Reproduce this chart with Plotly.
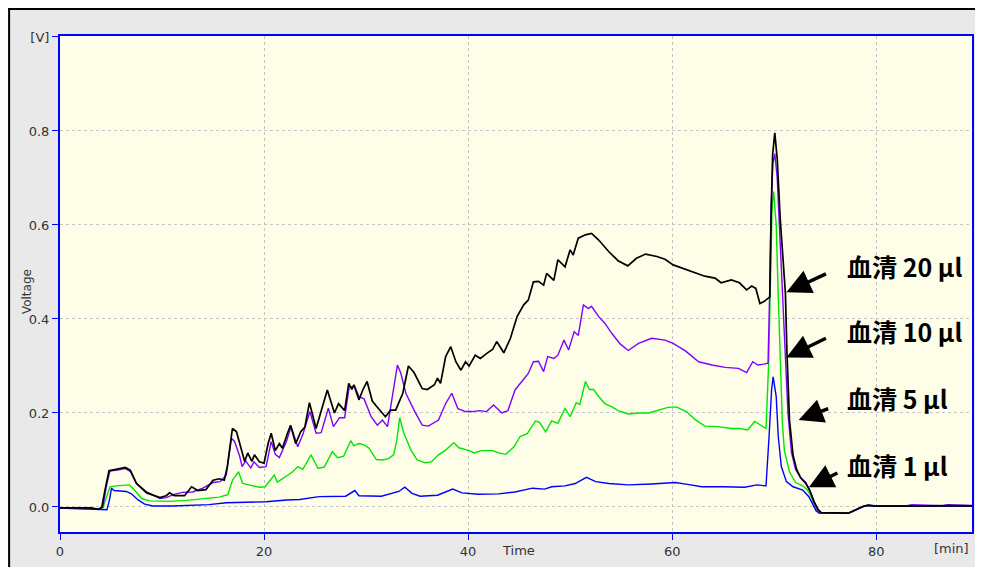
import plotly.graph_objects as go

# ---------------- data (time in min, voltage in V) ----------------
t_black = [0, 3.0, 3.8, 4.1, 4.4, 4.8, 5.5, 6.0, 6.4, 6.9, 7.5, 8.5, 9.8, 10.4, 10.75, 11.2, 12.2, 12.9, 13.5,
           14.3, 15.0, 15.6, 16.1, 16.4, 16.9, 17.3, 17.8, 18.1, 18.4, 18.8, 19.06, 19.55, 20.0, 20.4, 20.7, 21.1,
           21.5, 21.8, 22.3, 22.6, 23.1, 23.6, 24.0, 24.45, 25.1, 25.7, 26.2, 26.9, 27.3, 27.9, 28.3, 28.6, 28.8,
           29.3, 29.7, 30.1, 30.6, 31.0, 31.4, 31.9, 32.4, 32.9, 33.6, 34.15, 34.7, 35.1, 35.5, 36.0, 36.4, 36.7,
           37.0, 37.3, 37.8, 38.3, 38.8, 39.3, 39.75, 40.1, 40.7, 41.2, 41.9, 42.4, 42.8, 43.5, 44.15, 44.8, 45.45,
           45.9, 46.4, 46.9, 47.4, 47.7, 48.4, 48.8, 49.5, 50.0, 50.3, 50.8, 51.5, 52.1, 52.8, 53.8, 54.7, 55.65,
           56.5, 57.4, 58.5, 59.3, 60.1, 61.9, 63.2, 64.2, 64.8, 65.8, 66.6, 67.3, 67.8, 68.2, 68.6, 69.0, 69.4,
           69.57, 69.7, 69.85, 70.06, 70.3, 70.6, 70.9, 71.1, 71.25, 71.5, 71.85, 72.2, 72.6, 73.1, 73.5, 73.9,
           74.3, 74.6, 77.3, 78.0, 78.7, 79.2, 80.0, 84.0, 87.0, 90.2]
v_black = [-0.002, -0.002, -0.005, 0.0, 0.035, 0.077, 0.08, 0.082, 0.084, 0.078, 0.05, 0.03, 0.02, 0.024, 0.03,
           0.024, 0.024, 0.043, 0.035, 0.037, 0.057, 0.06, 0.057, 0.086, 0.167, 0.16, 0.118, 0.097, 0.115, 0.097,
           0.111, 0.096, 0.093, 0.135, 0.157, 0.12, 0.135, 0.125, 0.157, 0.174, 0.135, 0.16, 0.17, 0.222, 0.167,
           0.21, 0.249, 0.2, 0.22, 0.205, 0.263, 0.25, 0.26, 0.228, 0.25, 0.267, 0.226, 0.215, 0.205, 0.192, 0.206,
           0.206, 0.242, 0.3, 0.286, 0.27, 0.252, 0.25, 0.255, 0.26, 0.274, 0.263, 0.32, 0.341, 0.309, 0.291, 0.309,
           0.3, 0.323, 0.316, 0.328, 0.335, 0.352, 0.328, 0.359, 0.405, 0.43, 0.44, 0.479, 0.48, 0.472, 0.497,
           0.482, 0.526, 0.511, 0.547, 0.536, 0.572, 0.579, 0.582, 0.568, 0.543, 0.524, 0.513, 0.529, 0.538,
           0.533, 0.527, 0.515, 0.501, 0.491, 0.487, 0.477, 0.483, 0.477, 0.462, 0.47, 0.465, 0.433, 0.437, 0.444,
           0.447, 0.62, 0.75, 0.796, 0.74, 0.61, 0.52, 0.455, 0.33, 0.185, 0.11, 0.08, 0.062, 0.05, 0.035, 0.012,
           -0.005, -0.012, -0.013, -0.006, 0.001, 0.004, 0.002, 0.002, 0.003, 0.002]

t_purple = [0, 3.0, 3.8, 4.2, 4.6, 4.9, 5.5, 6.0, 6.4, 6.9, 7.5, 8.5, 9.8, 10.4, 11.2, 12.0, 13.0, 14.0, 15.0,
            15.7, 16.3, 16.8, 17.1, 17.6, 17.85, 18.2, 18.7, 19.0, 19.55, 20.2, 20.7, 21.1, 21.5, 22.2, 22.65,
            23.3, 23.8, 24.5, 25.1, 25.6, 26.3, 26.8, 27.4, 27.9, 28.35, 28.9, 29.3, 29.8, 30.5, 31.1, 31.6, 32.1,
            32.6, 33.07, 33.4, 33.9, 34.7, 35.5, 36.1, 36.6, 37.1, 37.8, 38.4, 39.0, 39.75, 40.4, 41.1, 41.8,
            42.5, 43.3, 43.9, 44.6, 45.3, 45.9, 46.4, 46.9, 47.4, 47.8, 48.4, 48.8, 49.4, 49.85, 50.4, 50.8, 51.3,
            51.8, 52.1, 52.8, 53.4, 54.1, 54.9, 55.7, 56.7, 58.0, 59.3, 60.1, 61.3, 62.6, 63.9, 65.2, 66.5, 67.3,
            67.9, 68.4, 69.0, 69.4, 69.57, 69.7, 69.87, 70.06, 70.3, 70.6, 70.9, 71.1, 71.35, 71.7, 72.1, 72.6,
            73.1, 73.5, 73.9, 74.3, 74.6, 77.3, 78.0, 78.7, 79.2, 80.0, 83.0, 83.5, 86.5, 87.0, 90.2]
v_purple = [-0.002, -0.002, -0.005, 0.0, 0.05, 0.077, 0.078, 0.08, 0.082, 0.075, 0.05, 0.032, 0.018, 0.02, 0.027,
            0.031, 0.032, 0.04, 0.052, 0.054, 0.068, 0.146, 0.14, 0.109, 0.086, 0.098, 0.083, 0.096, 0.084, 0.086,
            0.139, 0.112, 0.105, 0.14, 0.171, 0.128, 0.154, 0.203, 0.157, 0.158, 0.21, 0.171, 0.19, 0.19, 0.256,
            0.256, 0.235, 0.23, 0.192, 0.174, 0.185, 0.171, 0.24, 0.302, 0.285, 0.242, 0.206, 0.174, 0.172, 0.178,
            0.185, 0.22, 0.242, 0.209, 0.203, 0.203, 0.205, 0.203, 0.217, 0.2, 0.205, 0.249, 0.267, 0.284, 0.309,
            0.31, 0.288, 0.32, 0.316, 0.323, 0.355, 0.334, 0.373, 0.365, 0.43, 0.422, 0.427, 0.405, 0.391, 0.369,
            0.347, 0.333, 0.348, 0.359, 0.355, 0.348, 0.332, 0.309, 0.302, 0.297, 0.295, 0.286, 0.309, 0.302,
            0.304, 0.306, 0.469, 0.64, 0.73, 0.752, 0.70, 0.55, 0.42, 0.32, 0.2, 0.115, 0.08, 0.062, 0.052, 0.035,
            0.01, -0.008, -0.013, -0.013, -0.006, 0.001, 0.004, 0.002, 0.003, 0.005, 0.003, 0.005, 0.003]

t_green = [0, 3.8, 4.2, 4.6, 4.9, 5.5, 6.2, 6.8, 7.3, 8.0, 8.8, 10.75, 12.4, 14.0, 15.6, 16.45, 16.9, 17.5, 17.9,
           18.5, 19.55, 20.1, 20.5, 21.0, 21.3, 21.7, 22.2, 22.8, 23.3, 23.8, 24.6, 25.3, 25.9, 26.7, 27.2, 27.8,
           28.5, 28.8, 29.3, 29.8, 30.3, 31.0, 31.6, 32.2, 32.7, 33.0, 33.3, 33.7, 34.4, 35.0, 35.8, 36.4, 37.1,
           37.8, 38.6, 39.1, 40.1, 40.6, 41.3, 42.4, 43.0, 43.7, 44.5, 45.1, 45.8, 46.6, 47.0, 47.6, 48.2, 48.8,
           49.5, 50.0, 50.6, 50.95, 51.5, 51.9, 52.3, 52.8, 53.4, 54.1, 54.7, 55.7, 56.7, 57.7, 58.65, 59.6, 60.4,
           61.4, 62.2, 63.2, 64.5, 65.8, 66.6, 67.4, 68.1, 68.6, 69.2, 69.45, 69.6, 69.8, 69.95, 70.2, 70.4, 70.6,
           70.8, 71.0, 71.5, 72.1, 72.8, 73.3, 73.7, 74.1, 74.4, 77.3, 78.0, 78.7, 79.2, 80.0, 84.0, 90.2]
v_green = [-0.003, -0.004, -0.002, 0.025, 0.043, 0.045, 0.046, 0.047, 0.036, 0.018, 0.013, 0.012, 0.014, 0.017,
           0.021, 0.026, 0.057, 0.075, 0.05, 0.047, 0.042, 0.043, 0.054, 0.068, 0.053, 0.058, 0.066, 0.075, 0.086,
           0.08, 0.111, 0.082, 0.085, 0.118, 0.105, 0.108, 0.141, 0.13, 0.135, 0.132, 0.125, 0.101, 0.1, 0.103,
           0.111, 0.14, 0.19, 0.157, 0.121, 0.1, 0.094, 0.096, 0.111, 0.121, 0.137, 0.126, 0.12, 0.115, 0.12, 0.12,
           0.115, 0.112, 0.128, 0.15, 0.156, 0.183, 0.18, 0.16, 0.183, 0.178, 0.21, 0.192, 0.222, 0.218, 0.267,
           0.25, 0.25, 0.235, 0.22, 0.213, 0.205, 0.198, 0.2, 0.2, 0.206, 0.212, 0.213, 0.203, 0.187, 0.172, 0.171,
           0.167, 0.167, 0.164, 0.182, 0.175, 0.167, 0.3, 0.46, 0.64, 0.671, 0.6, 0.45, 0.3, 0.18, 0.12, 0.075,
           0.052, 0.045, 0.035, 0.018, -0.005, -0.013, -0.013, -0.006, 0.001, 0.003, 0.002, 0.002, 0.002]

t_blue = [0, 3.5, 4.6, 4.85, 5.05, 5.3, 6.5, 7.0, 7.65, 8.3, 9.1, 11.0, 13.0, 14.6, 16.3, 18.2, 20.2, 22.2, 23.5,
          25.4, 26.5, 28.0, 28.9, 29.3, 31.5, 33.2, 33.8, 34.5, 35.3, 37.0, 38.5, 39.4, 41.0, 43.0, 44.6, 46.3,
          47.5, 48.2, 49.5, 50.5, 51.6, 52.5, 53.8, 55.7, 58.0, 60.3, 61.5, 62.9, 65.0, 67.1, 68.3, 69.2, 69.5,
          69.75, 69.9, 70.2, 70.4, 70.7, 71.2, 71.85, 72.8, 73.4, 73.8, 74.1, 74.4, 77.3, 78.0, 78.7, 79.2, 80.0,
          84.0, 90.2]
v_blue = [-0.002, -0.004, -0.006, 0.015, 0.04, 0.035, 0.033, 0.028, 0.015, 0.006, 0.002, 0.002, 0.003, 0.005,
          0.009, 0.01, 0.011, 0.015, 0.016, 0.022, 0.022, 0.023, 0.035, 0.024, 0.023, 0.033, 0.042, 0.029, 0.023,
          0.025, 0.038, 0.03, 0.027, 0.028, 0.032, 0.04, 0.038, 0.043, 0.045, 0.05, 0.063, 0.054, 0.05, 0.047,
          0.049, 0.052, 0.048, 0.043, 0.043, 0.042, 0.047, 0.045, 0.15, 0.25, 0.277, 0.235, 0.15, 0.086, 0.054,
          0.043, 0.036, 0.022, 0.005, -0.008, -0.013, -0.013, -0.006, 0.001, 0.003, 0.002, 0.002, 0.002]

x_tick_vals = [0, 20, 40, 60, 80]
x_tick_text = ["0", "20", "40", "60", "80"]
y_tick_vals = [0.0, 0.2, 0.4, 0.6, 0.8, 1.0]
y_tick_text = ["0.0", "0.2", "0.4", "0.6", "0.8", "[V]"]

labels = ["血清 20 µl", "血清 10 µl", "血清 5 µl", "血清 1 µl"]
arrow_tip_t = [71.2, 71.2, 72.4, 73.4]
arrow_tip_v = [0.457, 0.318, 0.185, 0.042]

# ---------------- figure ----------------
fig = go.Figure()
series = [
    (t_green, v_green, "#00e600", 1.4),
    (t_blue, v_blue, "#0000ff", 1.4),
    (t_purple, v_purple, "#8000ff", 1.4),
    (t_black, v_black, "#000000", 1.7),
]
for t, v, c, w in series:
    fig.add_trace(go.Scatter(x=t, y=v, mode="lines", line=dict(color=c, width=w),
                             showlegend=False, hoverinfo="skip"))

# page body has an 8px margin, so the figure sits at (8, 8) on screen;
# size chosen so that the page never overflows (no scrollbars, no clipping)
OFF = 8
W, H = 967, 559
L, R, T, B = 52, 1, 28, 35
pw, ph = W - L - R, H - T - B


def px(x_screen):
    return (x_screen - OFF - L) / pw


def py(y_screen):
    return (H - B - (y_screen - OFF)) / ph


font_fam = "DejaVu Sans, Verdana, sans-serif"
fig.update_layout(
    width=W, height=H,
    margin=dict(l=L, r=R, t=T, b=B),
    paper_bgcolor="#e9e9e9",
    plot_bgcolor="#fdfde8",
    font=dict(family=font_fam, size=13, color="#333333"),
    xaxis=dict(range=[0, 89.39], tickvals=x_tick_vals, ticktext=x_tick_text,
               showline=True, linecolor="#0000ff", linewidth=2, mirror=True,
               ticks="outside", ticklen=6, tickcolor="#0000ff", tickwidth=1,
               showgrid=True, gridcolor="#c4c4c4", griddash="3px,3px", gridwidth=1,
               zeroline=False, tickfont=dict(size=13, color="#333333")),
    yaxis=dict(range=[-0.0532, 1.002], tickvals=y_tick_vals, ticktext=y_tick_text,
               showline=True, linecolor="#0000ff", linewidth=2, mirror=True,
               ticks="outside", ticklen=6, tickcolor="#0000ff", tickwidth=1,
               showgrid=True, gridcolor="#c4c4c4", griddash="3px,3px", gridwidth=1,
               zeroline=False, tickfont=dict(size=13, color="#333333")),
)

# black border on the left and top edges of the figure
shapes = [
    dict(type="line", xref="paper", yref="paper", x0=px(8), x1=px(1000), y0=py(9), y1=py(9),
         line=dict(color="black", width=2)),
    dict(type="line", xref="paper", yref="paper", x0=px(9), x1=px(9), y0=py(8), y1=py(590),
         line=dict(color="black", width=2)),
]
fig.update_layout(shapes=shapes)

ann = [
    dict(text="Voltage", xref="paper", yref="paper", x=px(18), y=py(292), showarrow=False,
         textangle=-90, font=dict(size=12, color="#333333", family=font_fam)),
    dict(text="Time", xref="paper", yref="paper", x=px(520), y=py(560), showarrow=False,
         font=dict(size=13, color="#333333", family=font_fam)),
    dict(text="[min]", xref="paper", yref="paper", x=px(973), y=py(558), showarrow=False,
         xanchor="right", font=dict(size=13, color="#333333", family=font_fam)),
]
text_pos = [(847, 266), (847, 331), (847, 398), (847, 465)]
tails = [(41, -19), (41, -20), (31, -12), (30, -15)]
for lab, tt, tv, (tx, ty), (ax, ay) in zip(labels, arrow_tip_t, arrow_tip_v, text_pos, tails):
    ann.append(dict(x=tt, y=tv, xref="x", yref="y", ax=ax, ay=ay, text="", showarrow=True,
                    arrowhead=2, arrowsize=1.4, arrowwidth=3.5, arrowcolor="black"))
    ann.append(dict(text="<b>" + lab + "</b>", xref="paper", yref="paper", x=px(tx), y=py(ty),
                    xanchor="left", yanchor="middle", showarrow=False,
                    font=dict(size=25, color="black", family="Noto Sans CJK JP, Noto Sans, sans-serif")))
fig.update_layout(annotations=ann)

fig.write_html("out.html")
